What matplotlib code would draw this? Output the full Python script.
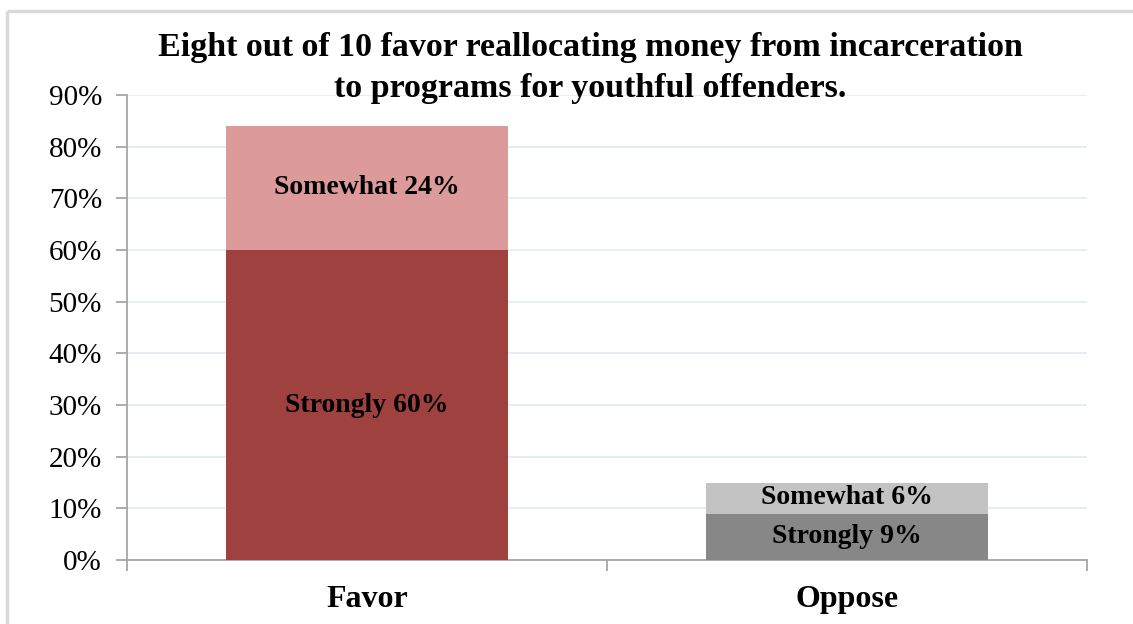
import matplotlib.pyplot as plt
from matplotlib.lines import Line2D
from matplotlib.ticker import FixedLocator, PercentFormatter

categories = ["Favor", "Oppose"]
strongly = [60, 9]
somewhat = [24, 6]
strong_colors = ["#9E413F", "#878787"]
some_colors = ["#DC9B9A", "#C3C3C3"]
yticks = [0, 10, 20, 30, 40, 50, 60, 70, 80, 90]

plt.rcParams["font.family"] = ["Liberation Serif", "DejaVu Serif"]

W, H = 1133, 624
fig = plt.figure(figsize=(W / 100, H / 100), dpi=100)
fig.patch.set_facecolor("white")
fig.patch.set_linewidth(0)

# outer chart frame (top and left edges)
fx, fy = 7 / W, 1 - 11 / H
fig.add_artist(Line2D([fx, 1.0], [fy, fy], transform=fig.transFigure,
                      color="#D9D9D9", linewidth=2.5, solid_capstyle="butt"))
fig.add_artist(Line2D([fx, fx], [0.0, fy], transform=fig.transFigure,
                      color="#D9D9D9", linewidth=2.5, solid_capstyle="butt"))

ax = fig.add_axes([127 / W, 1 - 560 / H, (1087 - 127) / W, (560 - 95) / H])

x = list(range(len(categories)))
width = 0.588
ax.bar(x, strongly, width=width, color=strong_colors, zorder=3)
ax.bar(x, somewhat, width=width, bottom=strongly, color=some_colors, zorder=3)

for i in x:
    ax.text(i, strongly[i] / 2, f"Strongly {strongly[i]}%", ha="center", va="center",
            fontsize=20, fontweight="bold", color="black", zorder=4)
    ax.text(i, strongly[i] + somewhat[i] / 2, f"Somewhat {somewhat[i]}%", ha="center",
            va="center", fontsize=20, fontweight="bold", color="black", zorder=4)

ax.set_xlim(-0.5, len(categories) - 0.5)
ax.set_ylim(0, 90)
ax.yaxis.set_major_locator(FixedLocator(yticks))
ax.yaxis.set_major_formatter(PercentFormatter(decimals=0))
ax.grid(axis="y", color="#E3EAF3", linewidth=1.2, zorder=0)
ax.set_axisbelow(True)

for side in ["top", "right"]:
    ax.spines[side].set_visible(False)
for side in ["left", "bottom"]:
    ax.spines[side].set_color("#A6A6A6")
    ax.spines[side].set_linewidth(1.3)

ax.tick_params(axis="y", length=8, width=1.3, color="#A6A6A6", labelsize=21, pad=10)
ax.set_xticks(x)
ax.set_xticklabels(categories, fontsize=23, fontweight="bold")
ax.tick_params(axis="x", length=0, pad=18)
# category boundary ticks
ax.set_xticks([-0.5, 0.5, 1.5], minor=True)
ax.tick_params(axis="x", which="minor", length=8, width=1.3, color="#A6A6A6")

fig.text(590 / W, 1 - 68 / H,
         "Eight out of 10 favor reallocating money from incarceration\nto programs for youthful offenders.",
         ha="center", va="center", fontsize=24.5, fontweight="bold", linespacing=1.4)

fig.savefig("out.png", dpi=100)
